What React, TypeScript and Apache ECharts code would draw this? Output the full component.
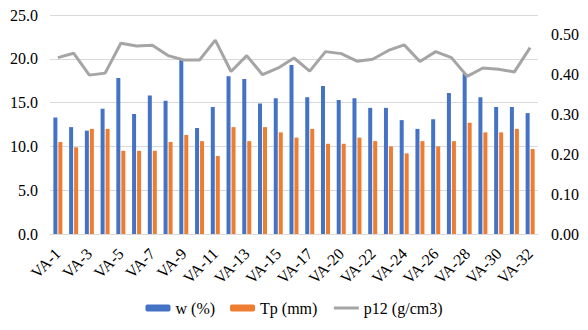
import React, { useEffect, useRef } from "react";
import * as echarts from "echarts";

const categories = [
  "VA-1", "VA-2", "VA-3", "VA-4", "VA-5", "VA-6", "VA-7", "VA-8", "VA-9", "VA-10",
  "VA-11", "VA-12", "VA-13", "VA-14", "VA-15", "VA-16", "VA-17", "VA-18", "VA-20", "VA-21",
  "VA-22", "VA-23", "VA-24", "VA-25", "VA-26", "VA-27", "VA-28", "VA-29", "VA-30", "VA-31", "VA-32",
];
const wValues = [
  13.3, 12.2, 11.8, 14.3, 17.8, 13.7, 15.8, 15.2, 20.0, 12.1,
  14.5, 18.0, 17.7, 14.9, 15.5, 19.3, 15.6, 16.9, 15.3, 15.5,
  14.4, 14.4, 13.0, 12.0, 13.1, 16.1, 18.3, 15.6, 14.5, 14.5, 13.8,
];
const tpValues = [
  10.5, 9.9, 12.0, 12.0, 9.5, 9.5, 9.5, 10.5, 11.3, 10.6,
  8.9, 12.2, 10.6, 12.2, 11.6, 11.0, 12.0, 10.3, 10.3, 11.0,
  10.6, 10.0, 9.2, 10.6, 10.0, 10.6, 12.7, 11.6, 11.6, 12.0, 9.7,
];
const p12Values = [
  0.443, 0.454, 0.399, 0.404, 0.479, 0.472, 0.474, 0.448, 0.437, 0.437,
  0.487, 0.408, 0.448, 0.400, 0.417, 0.442, 0.409, 0.458, 0.453, 0.434,
  0.439, 0.461, 0.475, 0.433, 0.458, 0.443, 0.396, 0.417, 0.414, 0.407, 0.468,
];

const FONT = "'Times New Roman', 'Liberation Serif', 'DejaVu Serif', serif";

export default function App() {
  const ref = useRef<HTMLDivElement>(null);
  useEffect(() => {
    if (!ref.current) return;
    const chart = echarts.init(ref.current, undefined, { renderer: "svg" });
    chart.setOption({
      animation: false,
      backgroundColor: "#ffffff",
      textStyle: { fontFamily: FONT },
      grid: { left: 50, right: 50, top: 15, height: 219, containLabel: false },
      legend: {
        bottom: 9,
        left: "center",
        itemWidth: 25,
        itemHeight: 7,
        itemGap: 15,
        textStyle: { fontFamily: FONT, fontSize: 16, color: "#000" },
        data: [
          { name: "w (%)" },
          { name: "Tp (mm)" },
          { name: "p12 (g/cm3)", itemStyle: { opacity: 0 }, lineStyle: { width: 3, color: "#A5A5A5" } },
        ],
      },
      xAxis: {
        type: "category",
        data: categories,
        axisLine: { lineStyle: { color: "#D9D9D9" } },
        axisTick: { show: false },
        axisLabel: {
          interval: 1,
          rotate: 45,
          fontFamily: FONT,
          fontSize: 16,
          color: "#000",
          margin: 17,
        },
      },
      yAxis: [
        {
          type: "value",
          min: 0,
          max: 25,
          interval: 5,
          axisLine: { show: false },
          axisTick: { show: false },
          splitLine: { lineStyle: { color: "#D9D9D9" } },
          axisLabel: {
            fontFamily: FONT,
            fontSize: 16,
            color: "#000",
            margin: 12,
            formatter: (v: number) => v.toFixed(1),
          },
        },
        {
          type: "value",
          min: 0,
          max: 0.55,
          interval: 0.1,
          axisLine: { show: false },
          axisTick: { show: false },
          splitLine: { show: false },
          axisLabel: {
            fontFamily: FONT,
            fontSize: 16,
            color: "#000",
            margin: 13,
            formatter: (v: number) => (v > 0.5001 ? "" : v.toFixed(2)),
          },
        },
      ],
      series: [
        {
          name: "w (%)",
          type: "bar",
          data: wValues,
          barWidth: 4,
          barGap: "25%",
          itemStyle: { color: "#4472C4" },
        },
        {
          name: "Tp (mm)",
          type: "bar",
          data: tpValues,
          barWidth: 4,
          barGap: "25%",
          itemStyle: { color: "#ED7D31" },
        },
        {
          name: "p12 (g/cm3)",
          type: "line",
          yAxisIndex: 1,
          data: p12Values,
          symbol: "none",
          lineStyle: { color: "#A5A5A5", width: 3 },
          itemStyle: { color: "#A5A5A5" },
        },
      ],
    });
    return () => chart.dispose();
  }, []);
  return (
    <div
      ref={ref}
      style={{ position: "fixed", left: 0, top: 0, width: 588, height: 330 }}
    />
  );
}
